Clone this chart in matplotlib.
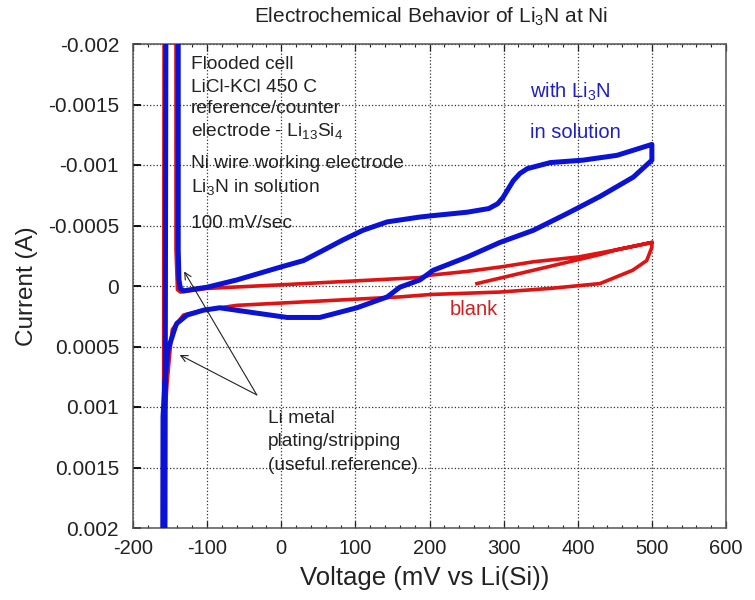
import matplotlib
matplotlib.use("Agg")
import matplotlib.pyplot as plt
from matplotlib.ticker import FuncFormatter, MultipleLocator, FixedLocator

plt.rcParams['font.family'] = ['Liberation Sans', 'DejaVu Sans']
plt.rcParams['mathtext.fontset'] = 'custom'
plt.rcParams['mathtext.rm'] = 'Liberation Sans'
plt.rcParams['mathtext.it'] = 'Liberation Sans'
plt.rcParams['mathtext.default'] = 'regular'

# ---- data (voltage in mV vs Li(Si), current in A) ----
blue_v = [-139, -139, -138, -136, -132, -100, -60, 1, 30, 52, 83, 110, 143, 187,
          202, 251, 280, 292, 299, 306, 313, 322, 332, 363, 407, 453, 500, 500,
          475, 430, 386, 363, 340, 295, 251, 205, 187, 160, 143, 102, 52, 8, -38,
          -83, -105, -127, -141, -143, -153, -157, -159.5, -160, -157, -155.5,
          -155.5, -139]
blue_i = [-0.0025, -0.0003, -0.00005, 0.00002, 0.00004, 0.00001, -0.00005,
          -0.00016, -0.00021, -0.00028, -0.00038, -0.00046, -0.00053, -0.00057,
          -0.00058, -0.00061, -0.00064, -0.00068, -0.00073, -0.0008, -0.00087,
          -0.00093, -0.00097, -0.00102, -0.00104, -0.00108, -0.00117, -0.00104,
          -0.0009, -0.00074, -0.0006, -0.00053, -0.00046, -0.00036, -0.00024,
          -0.00013, -0.00005, 0.00001, 0.00009, 0.00018, 0.00026, 0.00026,
          0.00022, 0.00018, 0.0002, 0.00024, 0.00031, 0.00034, 0.00053, 0.0008,
          0.00108, 0.0025, 0.0025, -0.0025, -0.0025, -0.0025]

red_v = [264, 340, 430, 453, 500, 500, 493, 474, 430, 363, 295, 202, 160, -60,
         -105, -132, -147, -150, -154, -157, -158, -159, -158, -142, -142, -140,
         -136, -100, 0, 187, 202, 250, 299, 340, 401, 453, 500]
red_i = [-0.00002, -0.00013, -0.00026, -0.0003, -0.00036, -0.00032, -0.00021,
         -0.00013, -0.00002, 0.00002, 0.00005, 0.00007, 0.00009, 0.00016, 0.0002,
         0.00024, 0.00036, 0.00053, 0.0008, 0.00108, 0.0025, 0.0025, -0.0025,
         -0.0025, -0.0003, 0.00003, 0.00005, 0.00002, -0.00001, -0.00007,
         -0.00009, -0.00012, -0.00016, -0.0002, -0.00024, -0.0003, -0.00036]

x_ticks = [-200, -100, 0, 100, 200, 300, 400, 500, 600]
y_ticks = [-0.002, -0.0015, -0.001, -0.0005, 0, 0.0005, 0.001, 0.0015, 0.002]

arrow_tail = (-33, 0.0009)
arrow_heads = [(-131, -0.00012), (-137, 0.00057)]

BLUE = '#0a12d6'
RED = '#e01212'

fig = plt.figure(figsize=(7.55, 6), dpi=100)
ax = fig.add_axes([133/755, 1 - 528/600, 593/755, 484/600])

ax.plot(red_v, red_i, color=RED, lw=2.6, solid_joinstyle='round', zorder=3)
ax.plot(blue_v, blue_i, color=BLUE, lw=3.6, solid_joinstyle='round', zorder=4)

ax.set_xlim(-200, 600)
ax.set_ylim(0.002, -0.002)
ax.xaxis.set_major_locator(FixedLocator(x_ticks))
ax.xaxis.set_minor_locator(MultipleLocator(20))
ax.yaxis.set_major_locator(FixedLocator(y_ticks))
ax.yaxis.set_major_formatter(FuncFormatter(lambda v, p: '%g' % v))
ax.xaxis.set_major_formatter(FuncFormatter(lambda v, p: '%g' % v))

ax.grid(True, which='major', linestyle=':', color='#333333', lw=0.9)
ax.set_axisbelow(True)

ax.tick_params(axis='x', which='both', direction='in', top=True, bottom=True,
               labelsize=14.5, pad=8, colors='#222222')
ax.tick_params(axis='x', which='major', length=5, width=0.9)
ax.tick_params(axis='x', which='minor', length=2.5, width=0.8)
ax.tick_params(axis='y', which='major', direction='in', left=True, right=False,
               length=6, width=1.3, labelsize=15, pad=10, color='black',
               labelcolor='#222222')
for s in ax.spines.values():
    s.set_color('#555555')
    s.set_linewidth(1.1)

fig.text(431/755, 1 - 22.7/600, 'Electrochemical Behavior of Li$_3$N at Ni',
         ha='center', va='baseline', fontsize=15, color='#222222')
fig.text(27/755, 1 - 286/600, 'Current (A)', rotation=90, ha='center',
         va='center', fontsize=17.5, color='#222222')
fig.text(425/755, 1 - 578/600, 'Voltage (mV vs Li(Si))', ha='center',
         va='center', fontsize=18.5, color='#222222')

info_lines = ['Flooded cell', 'LiCl-KCl 450 C', 'reference/counter',
              'electrode - Li$_{13}$Si$_4$', 'Ni wire working electrode',
              'Li$_3$N in solution', '100 mV/sec']
info_y = [0.9477, 0.9014, 0.8574, 0.8099, 0.7438, 0.6942, 0.6198]
for t, yy in zip(info_lines, info_y):
    ax.text(0.0978, yy, t, transform=ax.transAxes, fontsize=13.8,
            va='baseline', ha='left', color='#222222', zorder=5)

ax.text(0.6695, 0.8884, 'with Li$_3$N', transform=ax.transAxes, fontsize=14.5,
        va='baseline', color='#2020c0')
ax.text(0.6695, 0.8058, 'in solution', transform=ax.transAxes, fontsize=14.5,
        va='baseline', color='#2020c0')
ax.text(0.5346, 0.4401, 'blank', transform=ax.transAxes, fontsize=14.5,
        va='baseline', color='#d02020')

for t, yy in zip(['Li metal', 'plating/stripping', '(useful reference)'],
                 [0.2169, 0.1694, 0.1198]):
    ax.text(0.2277, yy, t, transform=ax.transAxes, fontsize=13.8,
            va='baseline', color='#222222')

for h in arrow_heads:
    ax.annotate('', xy=h, xytext=arrow_tail,
                arrowprops=dict(arrowstyle='->', color='#222222', lw=0.8,
                                shrinkA=0, shrinkB=0, mutation_scale=12),
                zorder=6)

fig.savefig('out.png', dpi=100)
